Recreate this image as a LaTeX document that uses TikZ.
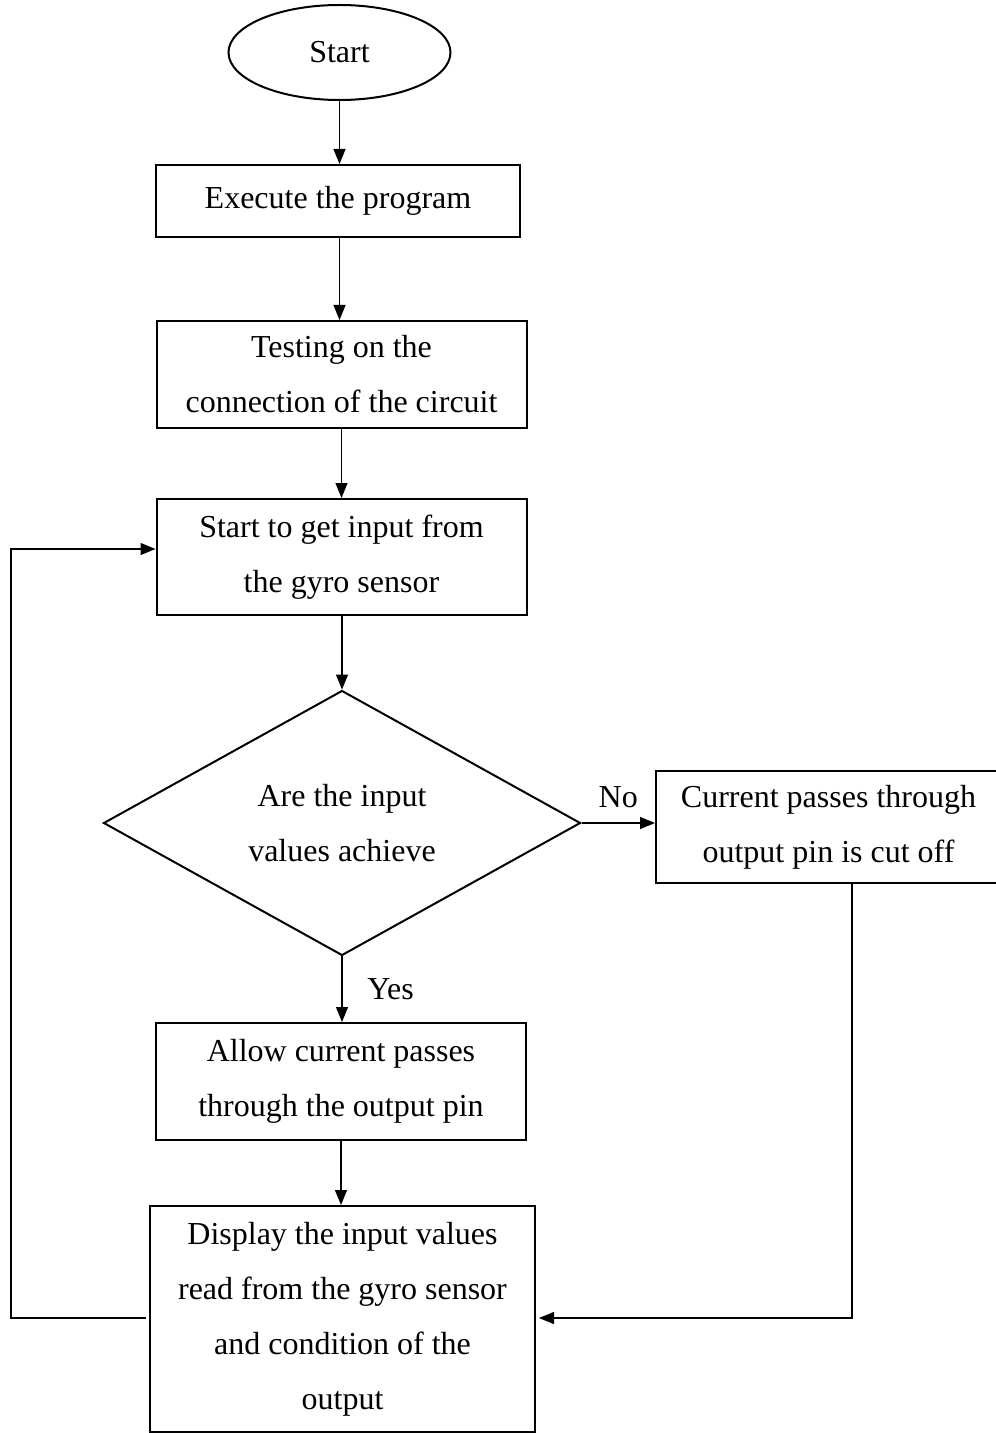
\documentclass[tikz,border=0pt]{standalone}
\usepackage{fontspec}
\setmainfont{Liberation Serif}
\usepackage{tikz}
\usetikzlibrary{arrows.meta,shapes.geometric,calc}
\tikzset{
  procbox/.style={
    rectangle, draw, line width=1pt, align=center, inner sep=0pt,
    minimum width=#1
  },
  procbox/.default=185pt,
  termnode/.style={
    ellipse, draw, line width=1pt, inner sep=0pt,
    minimum width=111pt, minimum height=47.5pt
  },
  decnode/.style={
    diamond, draw, line width=1pt, align=center, inner sep=0pt,
    minimum width=238.5pt, minimum height=131.5pt
  },
  flowarrow/.style={
    -{Triangle[length=7.5pt,width=6pt]}, line width=0.6pt
  },
  connline/.style={line width=0.6pt},
}

\begin{document}
\begin{tikzpicture}[x=0.5pt, y=-0.5pt,
    every node/.style={font=\fontsize{16}{27.5}\selectfont}]
  \useasboundingbox (0,0) rectangle (995,1433);

  % Main column
  \node[termnode] (start) at (339.5,52.5) {Start};
  \node[procbox=182pt, minimum height=36pt] (exec) at (338,201) {Execute the program};
  \node[procbox, minimum height=53.5pt] (test) at (341.5,374.5)
    {Testing on the\\connection of the circuit};
  \node[procbox, minimum height=58pt] (getin) at (341.5,557)
    {Start to get input from\\the gyro sensor};
  \node[decnode] (check) at (342,823) {Are the input\\values achieve};
  \node[procbox, minimum height=58.5pt] (allow) at (341,1081.5)
    {Allow current passes\\through the output pin};
  \node[procbox=192.5pt, minimum height=113pt] (show) at (342.5,1319)
    {Display the input values\\read from the gyro sensor\\and condition of the\\output};

  % Branch for the No case
  \node[procbox=172.5pt, minimum height=56pt] (cutoff) at (828.5,827)
    {Current passes through\\output pin is cut off};

  % Corners of the return lines
  \coordinate (rdrop) at (852,1318);
  \coordinate (lloop) at (11,1318);
  \coordinate (ltop) at (11,549);

  % Straight flow
  \draw[flowarrow] (start.south) -- (exec.north -| start.south);
  \draw[flowarrow] (start.south |- exec.south) -- (test.north -| start.south);
  \draw[flowarrow] (test.south) -- (getin.north -| test.south);
  \draw[flowarrow] (check.north |- getin.south) -- (check.north);
  \draw[flowarrow] (check.east) -- node[above=4pt] {No} (cutoff.west |- check.east);
  \draw[flowarrow] (check.south) -- node[right=9pt] {Yes} (allow.north -| check.south);
  \draw[flowarrow] (allow.south) -- (show.north -| allow.south);

  % Return lines
  \draw[flowarrow] (cutoff.south -| rdrop) -- (rdrop) -- ($(show.east |- rdrop)+(3,0)$);
  \draw[flowarrow] ($(show.west |- lloop)+(-3,0)$) -- (lloop) -- (ltop) -- (getin.west |- ltop);
\end{tikzpicture}
\end{document}
